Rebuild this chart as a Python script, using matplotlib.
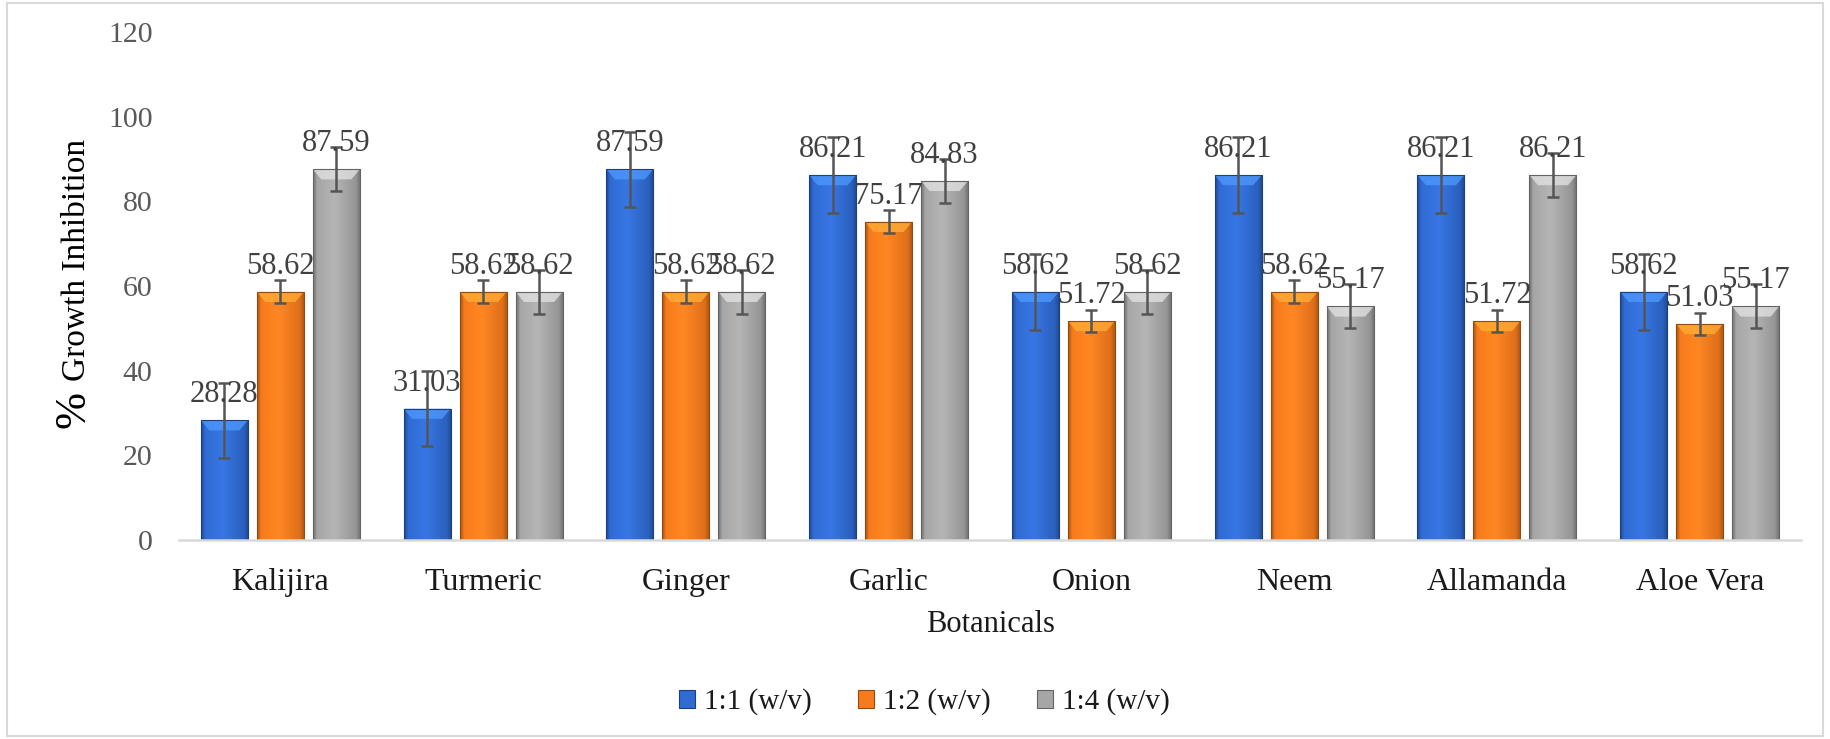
import numpy as np
import matplotlib.pyplot as plt
from matplotlib.colors import to_rgb
from matplotlib.patches import Rectangle, Polygon, Patch

plt.rcParams['font.family'] = ['Liberation Serif', 'DejaVu Serif']

# donnees
botanicals = ['Kalijira', 'Turmeric', 'Ginger', 'Garlic', 'Onion', 'Neem', 'Allamanda', 'Aloe Vera']
series = ['1:1 (w/v)', '1:2 (w/v)', '1:4 (w/v)']
ratio_1_1 = [28.28, 31.03, 87.59, 86.21, 58.62, 86.21, 86.21, 58.62]
ratio_1_2 = [58.62, 58.62, 58.62, 75.17, 51.72, 58.62, 51.72, 51.03]
ratio_1_4 = [87.59, 58.62, 58.62, 84.83, 58.62, 55.17, 86.21, 55.17]
err_1_1 = [8.9, 8.9, 8.9, 8.9, 8.9, 8.9, 8.9, 8.9]
err_1_2 = [2.7, 2.7, 2.7, 2.7, 2.7, 2.7, 2.7, 2.7]
err_1_4 = [5.2, 5.2, 5.2, 5.2, 5.2, 5.2, 5.2, 5.2]
yticks = [0, 20, 40, 60, 80, 100, 120]

colors = ['#2f6bd3', '#f77b1c', '#a6a6a6']


def shade_bar(ax, rect, base):
    # degrade horizontal + biseau clair en haut, façon Excel
    x, y, w, h = rect.get_x(), rect.get_y(), rect.get_width(), rect.get_height()
    base = np.array(to_rgb(base))
    dark = base * 0.68
    light = np.clip(base * 1.06 + 0.02, 0, 1)
    t = np.linspace(0, 1, 60)
    keys_t = [0, 0.08, 0.45, 0.9, 1]
    keys_c = [dark, base, light, base * 0.9, dark]
    cols = np.array([[np.interp(v, keys_t, [k[i] for k in keys_c]) for i in range(3)] for v in t])
    img = cols[np.newaxis, :, :]
    im = ax.imshow(img, extent=[x, x + w, y, y + h], aspect='auto', zorder=2, interpolation='bilinear')
    im.set_clip_path(rect)
    d = 2.4
    top = y + h
    hl = np.clip(base * 1.25 + 0.08, 0, 1)
    ax.add_patch(Polygon([(x, top), (x + w, top), (x + w * 0.82, top - d), (x + w * 0.18, top - d)],
                         closed=True, facecolor=hl, edgecolor='none', alpha=0.75, zorder=2.5))


fig = plt.figure(figsize=(18.3, 7.39), dpi=100)
ax = fig.add_axes([0.0978, 0.2693, 0.8864, 0.6874])

x = np.arange(len(botanicals))
width = 0.232
step = 0.276
all_vals = [ratio_1_1, ratio_1_2, ratio_1_4]
all_errs = [err_1_1, err_1_2, err_1_4]

for k, (vals, errs) in enumerate(zip(all_vals, all_errs)):
    pos = x + (k - 1) * step
    bars = ax.bar(pos, vals, width, color=colors[k], edgecolor='none', zorder=1.5)
    for b in bars:
        shade_bar(ax, b, colors[k])
        ax.add_patch(Rectangle((b.get_x(), 0), b.get_width(), b.get_height(), fill=False,
                               edgecolor=np.array(to_rgb(colors[k])) * 0.6, lw=0.8, zorder=2.6))
    ax.errorbar(pos, vals, yerr=errs, fmt='none', ecolor='#555555', elinewidth=1.8,
                capsize=4, capthick=1.8, zorder=4)
    for p, v in zip(pos, vals):
        ax.annotate(f'{v:.2f}', (p, v), xytext=(0, 8), textcoords='offset points',
                    ha='center', va='bottom', fontsize=22, color='#404040', zorder=5)

ax.set_xlim(-0.5, len(botanicals) - 0.5)
ax.set_ylim(0, 120)
ax.set_yticks(yticks)
ax.set_yticklabels([str(t) for t in yticks])
ax.set_xticks(x)
ax.set_xticklabels(botanicals)
ax.tick_params(axis='y', length=0, pad=19, labelsize=21.5, labelcolor='#595959')
ax.tick_params(axis='x', length=0, pad=20, labelsize=23, labelcolor='#1a1a1a')
for s in ['top', 'right', 'left']:
    ax.spines[s].set_visible(False)
ax.spines['bottom'].set_color('#d9d9d9')
ax.spines['bottom'].set_linewidth(1.8)
ax.spines['bottom'].set_zorder(3)

fig.text(0.541, 1 - 625 / 739, 'Botanicals', ha='center', va='center', fontsize=22, color='#1a1a1a')
fig.text(0.040, 1 - 410 / 739, '%', rotation=90, ha='center', va='center', fontsize=32, color='black')
fig.text(0.042, 1 - 260 / 739, 'Growth Inhibition', rotation=90, ha='center', va='center',
         fontsize=24, color='black')

handles = [Patch(facecolor=c, edgecolor=np.array(to_rgb(c)) * 0.6, lw=0.8) for c in colors]
fig.legend(handles, series, loc='center', bbox_to_anchor=(0.505, 1 - 702 / 739), ncol=3,
           frameon=False, fontsize=21, handlelength=0.55, handleheight=0.55, handletextpad=0.3,
           columnspacing=1.6, labelcolor='#1a1a1a')

fig.add_artist(Rectangle((0.004, 0.004), 0.992, 0.992, transform=fig.transFigure, fill=False,
                         edgecolor='#d9d9d9', lw=1.5))

plt.savefig('out.png', dpi=100)
